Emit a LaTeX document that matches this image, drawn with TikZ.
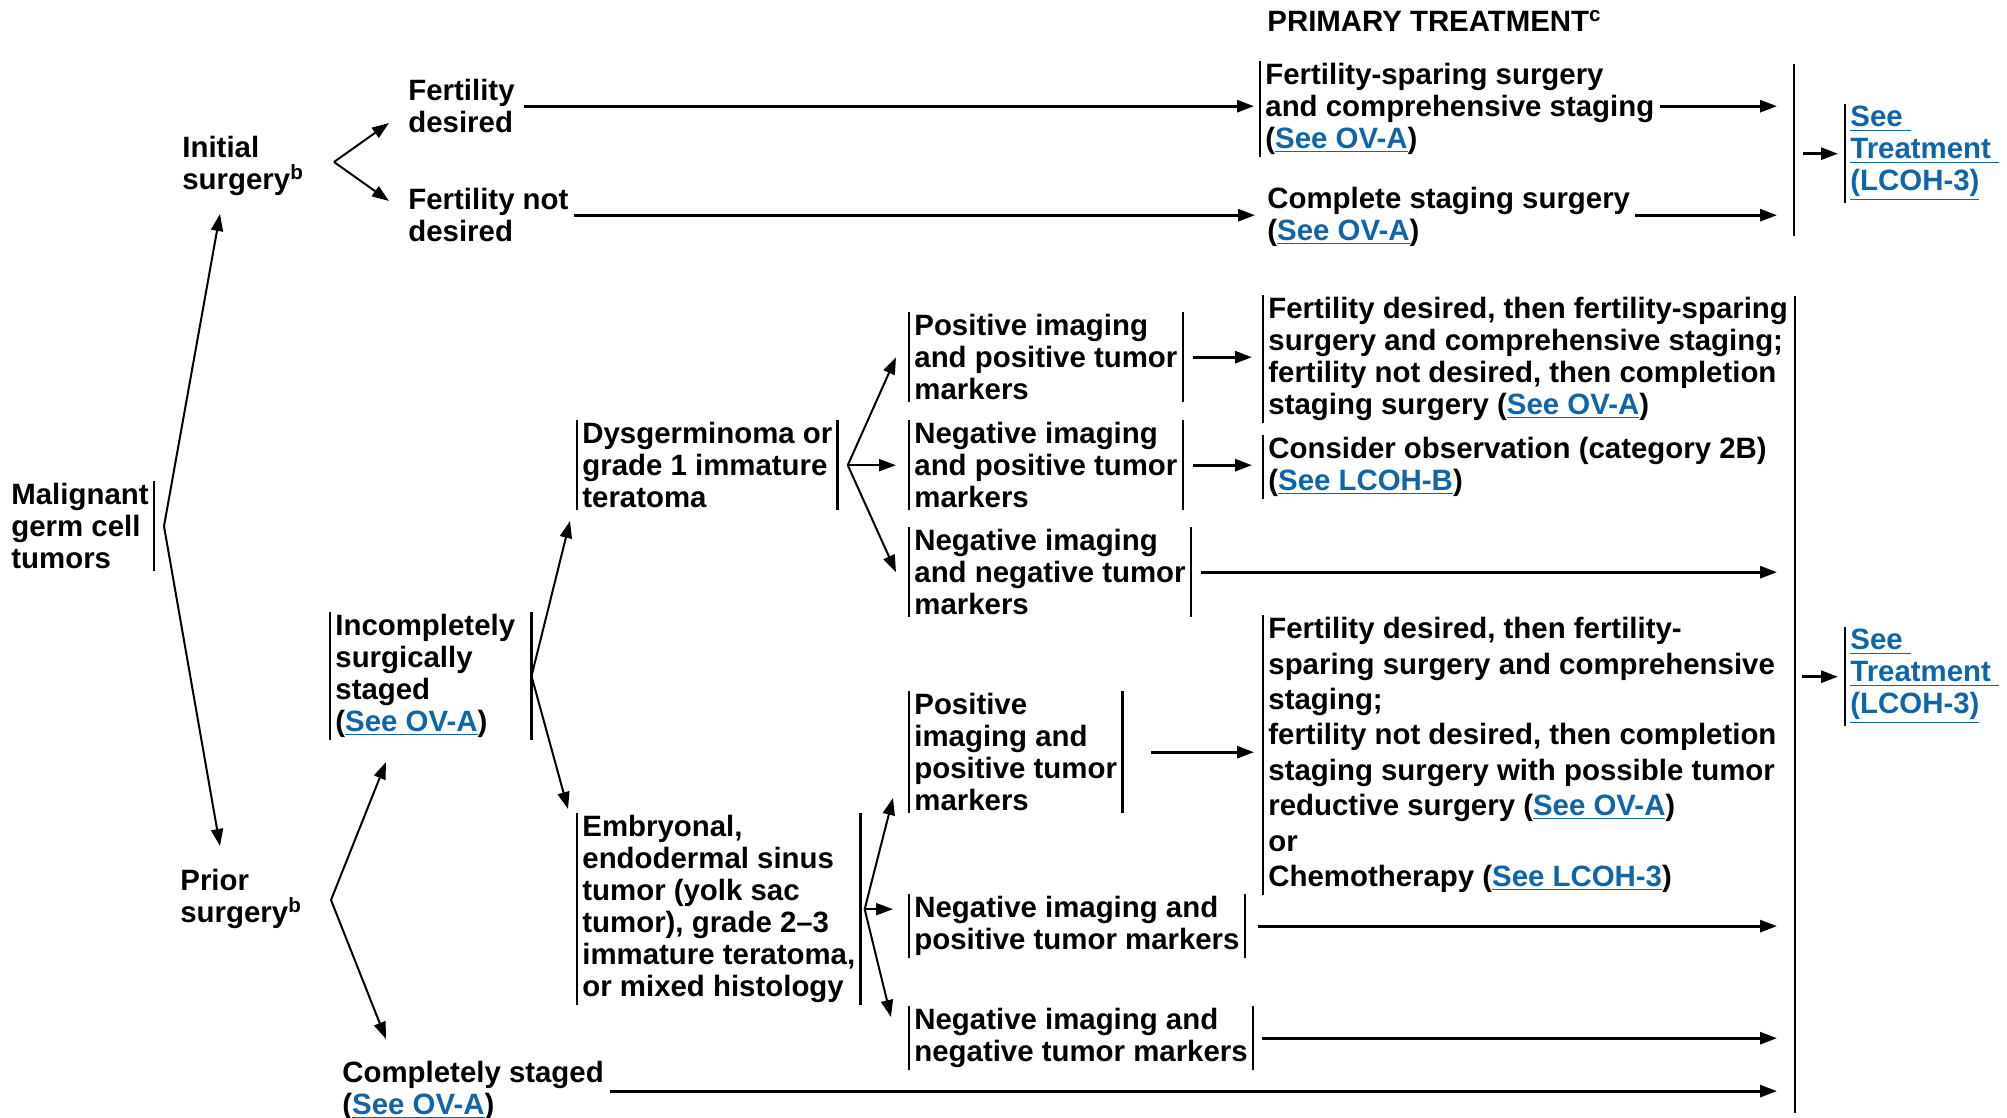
\documentclass[tikz,border=0pt]{standalone}
\usepackage{fontspec}
\setmainfont{Liberation Sans}
\usetikzlibrary{arrows.meta}
\definecolor{linkblue}{RGB}{16,100,168}
\newcommand{\lnk}[1]{\textcolor{linkblue}{\underline{#1}}}

\begin{document}
\begin{tikzpicture}[x=0.5pt,y=-0.5pt,
  font=\fontsize{14.7pt}{16pt}\selectfont\bfseries,
  txt/.style={anchor=north west,align=left,inner xsep=2.5pt,inner ysep=1pt},
  bar/.style={line width=1.3pt},
  arr/.style={-{Triangle[length=8.5pt,width=6pt]},line width=1.4pt},
  diag/.style={-{Triangle[length=8.5pt,width=6pt]},line width=1pt}]
\useasboundingbox (0,0) rectangle (2007,1118);

% left side
\node[txt] (head) at (1262,8) {PRIMARY TREATMENT\textsuperscript{c}};
\node[txt] (mgc) at (6,481) {Malignant\\germ cell\\tumors};
\node[txt] (ini) at (177,134) {Initial\\surgery\textsuperscript{b}};
\node[txt] (fd) at (403,77) {Fertility\\desired};
\node[txt] (fnd) at (403,186) {Fertility not\\desired};
\node[txt] (pri) at (175,867) {Prior\\surgery\textsuperscript{b}};
\node[txt] (inc) at (330,612) {Incompletely\\surgically\\staged\\(\lnk{See OV-A})};
\node[txt] (cst) at (337,1059) {Completely staged\\(\lnk{See OV-A})};
\node[txt] (dys) at (577,420) {Dysgerminoma or\\grade 1 immature\\teratoma};
\node[txt] (emb) at (577,813) {Embryonal,\\endodermal sinus\\tumor (yolk sac\\tumor), grade 2–3\\immature teratoma,\\or mixed histology};

% imaging and markers
\node[txt] (p1) at (909,312) {Positive imaging\\and positive tumor\\markers};
\node[txt] (n1) at (909,420) {Negative imaging\\and positive tumor\\markers};
\node[txt] (nn1) at (909,527) {Negative imaging\\and negative tumor\\markers};
\node[txt] (p2) at (909,691) {Positive\\imaging and\\positive tumor\\markers};
\node[txt] (n2) at (909,894) {Negative imaging and\\positive tumor markers};
\node[txt] (nn2) at (909,1006) {Negative imaging and\\negative tumor markers};

% primary treatment
\node[txt] (fss) at (1260,61) {Fertility-sparing surgery\\and comprehensive staging\\(\lnk{See OV-A})};
\node[txt] (css) at (1262,185) {Complete staging surgery\\(\lnk{See OV-A})};
\node[txt] (fdt) at (1263,295) {Fertility desired, then fertility-sparing\\surgery and comprehensive staging;\\fertility not desired, then completion\\staging surgery (\lnk{See OV-A})};
\node[txt] (obs) at (1263,435) {Consider observation (category 2B)\\(\lnk{See LCOH-B})};
\node[txt,font=\fontsize{14.7pt}{17.7pt}\selectfont\bfseries] (fdt2) at (1263,615) {Fertility desired, then fertility-\\sparing surgery and comprehensive\\staging;\\fertility not desired, then completion\\staging surgery with possible tumor\\reductive surgery (\lnk{See OV-A})\\or\\Chemotherapy (\lnk{See LCOH-3})};
\node[txt,text=linkblue] (see1) at (1845,104) {\underline{See\ }\\\underline{Treatment\ }\\\underline{(LCOH-3)}};
\node[txt,text=linkblue] (see2) at (1845,627) {\underline{See\ }\\\underline{Treatment\ }\\\underline{(LCOH-3)}};

% bars
\foreach \n in {inc,dys,emb,p1,n1,nn1,p2,n2,nn2,fss,fdt,obs,fdt2,see1,see2}
  \draw[bar] (\n.north west) -- (\n.south west);
\foreach \n in {mgc,dys,emb,p1,n1,nn1,p2,n2,nn2}
  \draw[bar] (\n.north east) -- (\n.south east);
\draw[bar] ([xshift=5.5pt]inc.north east) -- ([xshift=5.5pt]inc.south east);

\coordinate (mv) at ([xshift=5pt]mgc.east);
\coordinate (mu) at (220,214);
\coordinate (md) at (220,846);
\coordinate (iv) at (334,162);
\coordinate (iu) at (389,123);
\coordinate (id) at (389,201);
\coordinate (pv) at (331,900);
\coordinate (pu) at (386,762);
\coordinate (pd) at (386,1039);
\coordinate (cv) at ([xshift=5.5pt]inc.east);
\coordinate (cu) at (570,521);
\coordinate (cd) at (568,809);
\coordinate (dv) at ([xshift=5pt]dys.east);
\coordinate (ev) at ([xshift=2pt]emb.east);
\coordinate (eu) at (893,798);
\coordinate (ed) at (891,1017);
\coordinate (v1t) at (1794,64);
\coordinate (v1b) at (1794,236);
\coordinate (v2t) at (1795,296);
\coordinate (v2b) at (1795,1113);

\draw[diag] (mv) -- (mu);
\draw[diag] (mv) -- (md);
\draw[diag] (iv) -- (iu);
\draw[diag] (iv) -- (id);
\draw[diag] (pv) -- (pu);
\draw[diag] (pv) -- (pd);
\draw[diag] (cv) -- (cu);
\draw[diag] (cv) -- (cd);
\draw[diag] (dv) -- ([xshift=-6.5pt]p1.west);
\draw[diag,shorten >=6.5pt] (dv) -- (dv -| n1.west);
\draw[diag] (dv) -- ([xshift=-6.5pt]nn1.west);
\draw[diag] (ev) -- (eu);
\draw[diag,shorten >=8pt] (ev) -- (ev -| n2.west);
\draw[diag] (ev) -- (ed);

% upper collector
\draw[arr,shorten <=2pt,shorten >=3pt] (fd.east) -- (fd.east -| fss.west);
\draw[arr,shorten >=3.5pt] (fnd.east) -- (fnd.east -| css.west);
\draw[arr,shorten >=8.5pt] (fss.east |- fd.east) -- (fd.east -| v1t);
\draw[arr,shorten >=8.5pt] (css.east |- fnd.east) -- (fnd.east -| v1t);
\draw[bar] (v1t) -- (v1b);
\draw[arr,shorten <=4.5pt,shorten >=3.5pt] (see1.west -| v1t) -- (see1.west);

% lower collector
\draw[arr,shorten <=5pt,shorten >=5.5pt] (p1.east) -- (p1.east -| fdt.west);
\draw[arr,shorten <=5pt,shorten >=5.5pt] (n1.east) -- (n1.east -| obs.west);
\draw[arr,shorten <=5pt,shorten >=9pt] (nn1.east) -- (nn1.east -| v2t);
\draw[arr,shorten <=14.5pt,shorten >=4.5pt] (p2.east) -- (p2.east -| fdt2.west);
\draw[arr,shorten <=6.5pt,shorten >=9pt] (n2.east) -- (n2.east -| v2t);
\draw[arr,shorten <=4.5pt,shorten >=9pt] (nn2.east) -- (nn2.east -| v2t);
\draw[arr,shorten <=0.5pt,shorten >=9pt] (cst.east) -- (cst.east -| v2t);
\draw[bar] (v2t) -- (v2b);
\draw[arr,shorten <=3.5pt,shorten >=3.5pt] (see2.west -| v2t) -- (see2.west);

\end{tikzpicture}
\end{document}
